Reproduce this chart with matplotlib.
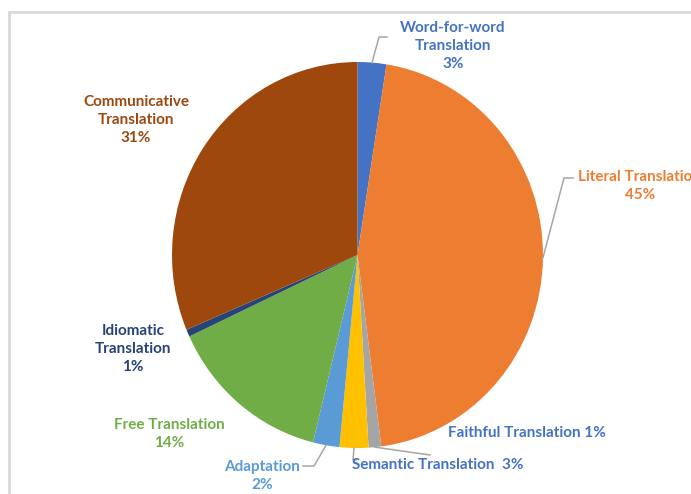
import matplotlib.pyplot as plt
import numpy as np
from matplotlib.lines import Line2D
from matplotlib.patches import Rectangle
from matplotlib.transforms import IdentityTransform

# data
names = ["Word-for-word\nTranslation", "Literal Translation", "Faithful Translation",
         "Semantic Translation", "Adaptation", "Free Translation",
         "Idiomatic\nTranslation", "Communicative\nTranslation"]
shares = [2.5, 45.4, 1.1, 2.5, 2.3, 14.2, 0.6, 31.3]
colors = ["#4472C4", "#ED7D31", "#A5A5A5", "#FFC000", "#5B9BD5", "#70AD47", "#264478", "#9E480E"]
label_colors = ["#4472C4", "#ED7D31", "#4472C4", "#4472C4", "#5B9BD5", "#70AD47", "#264478", "#9E480E"]

W, H = 691, 494
cx, cy, rx, ry = 357.5, 255, 185.5, 193   # pie centre / radii in pixels (top-left origin)

fig = plt.figure(figsize=(W / 100, H / 100), dpi=100)
ax = fig.add_axes([(cx - rx) / W, (H - cy - ry) / H, 2 * rx / W, 2 * ry / H])
ax.pie(shares, colors=colors, startangle=90, counterclock=False, radius=1,
       wedgeprops=dict(linewidth=0))
ax.set_aspect('auto')
ax.set_xlim(-1, 1)
ax.set_ylim(-1, 1)
ax.axis('off')

# frame
fig.add_artist(Rectangle((9 / W, -0.1), 1.2, (H - 12) / H + 0.1, transform=fig.transFigure,
                         fill=False, edgecolor="#D9D9D9", linewidth=2))

plt.rcParams['font.family'] = ['Lato', 'DejaVu Sans']

def pct(v):
    return f"{int(v + 0.5)}%"

def fpx(x, y):
    return x / W, 1 - y / H

txt = dict(fontsize=11, fontweight='bold', linespacing=1.4)

# label positions (pixels, centre of text block)
lab = [
    (453, 46, names[0] + "\n" + pct(shares[0]), 'center'),
    (640, 186, names[1] + "\n" + pct(shares[1]), 'center'),
    (527, 433, names[2] + " " + pct(shares[2]), 'center'),
    (438, 465, names[3] + "  " + pct(shares[3]), 'center'),
    (262, 476, names[4] + "\n" + pct(shares[4]), 'center'),
    (169, 434, names[5] + "\n" + pct(shares[5]), 'center'),
    (133, 349, names[6] + "\n" + pct(shares[6]), 'center'),
    (136, 120, names[7] + "\n" + pct(shares[7]), 'center'),
]
for i, (x, y, s, ha) in enumerate(lab):
    fx, fy = fpx(x, y)
    fig.text(fx, fy, s, ha=ha, va='center', color=label_colors[i], multialignment='center', **txt)

# leader lines from the middle of the wedge edge
cum = np.cumsum([0] + shares)
mid = (cum[:-1] + cum[1:]) / 2 / cum[-1] * 2 * np.pi

def edge(i):
    return cx + rx * np.sin(mid[i]), cy - ry * np.cos(mid[i])

leaders = {
    0: [(379, 37), (387, 37)],
    1: [(564, 178), (573, 178)],
    2: [(430, 455)],
    3: [(353, 460), (356, 460)],
    4: [(314, 466), (303, 466)],
}
for i, pts in leaders.items():
    p = [edge(i)] + pts
    xs = [q[0] for q in p]
    ys = [H - q[1] for q in p]
    fig.add_artist(Line2D(xs, ys, transform=IdentityTransform(), color="#A6A6A6", linewidth=1.1))

fig.savefig("out.png", dpi=100)
